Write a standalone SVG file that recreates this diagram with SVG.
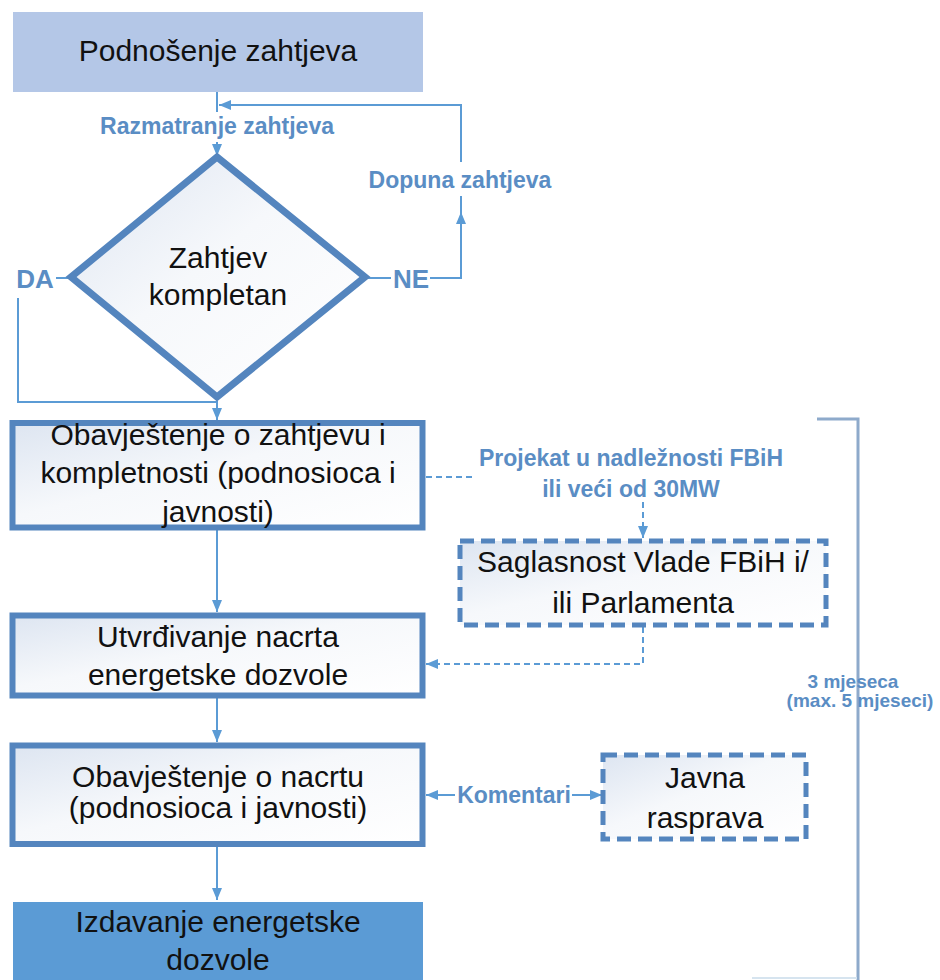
<svg xmlns="http://www.w3.org/2000/svg" width="940" height="980" viewBox="0 0 940 980">
<style>
.node{font-family:"Liberation Sans",Arial,sans-serif;font-size:30px;fill:#111;text-anchor:middle}
.lbl{font-family:"Liberation Sans",Arial,sans-serif;font-size:23px;font-weight:bold;fill:#5a8dc4;text-anchor:middle}
.big{font-size:26px}
.sm{font-size:19px}
.box{fill:url(#g);stroke:#5485be;stroke-width:6}
.dbox{fill:url(#g);stroke:#5485be;stroke-width:5;stroke-dasharray:14 7}
.c{fill:none;stroke:#5b9bd5;stroke-width:2}
.d{fill:none;stroke:#5b9bd5;stroke-width:2;stroke-dasharray:6 4}
</style>
<defs>
<linearGradient id="g" x1="0" y1="0" x2="1" y2="1">
<stop offset="0" stop-color="#dde5f1"/>
<stop offset="0.45" stop-color="#f6f8fb"/>
<stop offset="1" stop-color="#ffffff"/>
</linearGradient>
<marker id="a" markerUnits="userSpaceOnUse" markerWidth="12" markerHeight="10" refX="12" refY="5" orient="auto">
<path d="M0,0 L12,5 L0,10 z" fill="#5b9bd5"/>
</marker>
</defs>

<g id="connectors">
<path class="c" d="M217 92 V112"/>
<path class="c" d="M217 142 V156" marker-end="url(#a)"/>
<path class="c" d="M365 278 H391"/>
<path class="c" d="M430 278 H461 V212" marker-end="url(#a)"/>
<path class="c" d="M461 212 V196"/>
<path class="c" d="M461 162 V105 H219" marker-end="url(#a)"/>
<path class="c" d="M56 278 H72"/>
<path class="c" d="M18 298 V402 H217 V420" marker-end="url(#a)"/>
<path class="c" d="M217 527 V612" marker-end="url(#a)"/>
<path class="c" d="M217 697 V742" marker-end="url(#a)"/>
<path class="c" d="M217 845 V900" marker-end="url(#a)"/>
<path class="d" d="M426 477 H476"/>
<path class="d" d="M643 502 V538" marker-end="url(#a)"/>
<path class="d" d="M643 627 V664 H426" marker-end="url(#a)"/>
<path class="c" d="M455 795 H426" marker-end="url(#a)"/>
<path class="c" d="M572 795 H602" marker-end="url(#a)"/>
<path d="M817 419 H858 V980" fill="none" stroke="#8eaacb" stroke-width="3"/>
<path d="M752 978 H857" fill="none" stroke="#d6e4ef" stroke-width="2"/>
<text class="lbl" x="217" y="134">Razmatranje zahtjeva</text>
<text class="lbl" x="460" y="188">Dopuna zahtjeva</text>
<text class="lbl big" x="35" y="288">DA</text>
<text class="lbl big" x="411" y="288">NE</text>
<text class="lbl" x="631" y="466">Projekat u nadležnosti FBiH</text>
<text class="lbl" x="631" y="497">ili veći od 30MW</text>
<text class="lbl" x="514" y="803">Komentari</text>
<text class="lbl sm" x="853" y="688">3 mjeseca</text>
<text class="lbl sm" x="860" y="707">(max. 5 mjeseci)</text>
</g>

<g id="n1">
<rect x="13" y="12" width="410" height="80" fill="#b4c7e7"/>
<text class="node" x="218" y="61">Podnošenje zahtjeva</text>
</g>

<g id="n2">
<path class="box" d="M217 157 L365 277 L217 397 L71 277 Z" style="stroke-width:7"/>
<text class="node" x="218" y="268">Zahtjev</text>
<text class="node" x="218" y="305">kompletan</text>
</g>

<g id="n3">
<rect class="box" x="12.5" y="423" width="410" height="104.5"/>
<text class="node" x="218" y="445">Obavještenje o zahtjevu i</text>
<text class="node" x="218" y="483">kompletnosti (podnosioca i</text>
<text class="node" x="218" y="522">javnosti)</text>
</g>

<g id="n4">
<rect class="dbox" x="460" y="541" width="366" height="84"/>
<text class="node" x="643" y="572">Saglasnost Vlade FBiH i/</text>
<text class="node" x="643" y="613">ili Parlamenta</text>
</g>

<g id="n5">
<rect class="box" x="12.5" y="615.5" width="410" height="80"/>
<text class="node" x="218" y="647">Utvrđivanje nacrta</text>
<text class="node" x="218" y="685">energetske dozvole</text>
</g>

<g id="n6">
<rect class="box" x="12.5" y="745.5" width="410" height="98.5"/>
<text class="node" x="218" y="787">Obavještenje o nacrtu</text>
<text class="node" x="218" y="818">(podnosioca i javnosti)</text>
</g>

<g id="n7">
<rect class="dbox" x="603" y="755" width="203" height="84"/>
<text class="node" x="705" y="788">Javna</text>
<text class="node" x="705" y="828">rasprava</text>
</g>

<g id="n8">
<rect x="13" y="902" width="410" height="80" fill="#5b9bd5"/>
<text class="node" x="218" y="932">Izdavanje energetske</text>
<text class="node" x="218" y="970">dozvole</text>
</g>
</svg>
